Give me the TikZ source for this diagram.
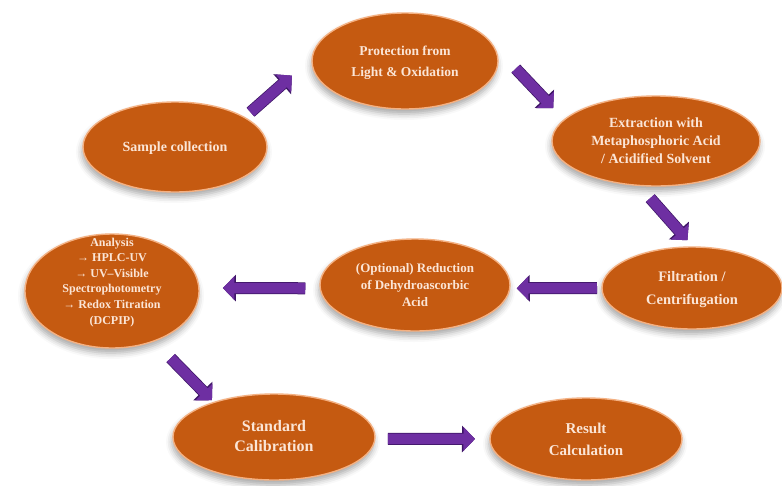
\documentclass[tikz,border=0pt]{standalone}
\usepackage{fontspec}
\setmainfont{Liberation Serif}
\usetikzlibrary{shapes.geometric,arrows.meta,shadows.blur}

\definecolor{stagefill}{HTML}{C55A11}
\definecolor{stageedge}{HTML}{F4B183}
\definecolor{stageink}{HTML}{FBE5D6}
\definecolor{flowpurple}{HTML}{6E2FA2}
\definecolor{flowdark}{HTML}{3E1666}

% centred block of lines that does not enlarge the ellipse around it
\newcommand\stagetext[2][-0.3em]{\makebox[0pt]{\raisebox{#1}[0pt][0pt]{\begin{tabular}{@{}c@{}}#2\end{tabular}}}}

\begin{document}
\begin{tikzpicture}[x=1pt,y=-1pt,
  stage/.style={ellipse, inner sep=0pt, outer sep=0pt, fill=stagefill,
    draw=stageedge, line width=1.4pt, text=stageink,
    blur shadow={shadow xshift=-1pt, shadow yshift=-5pt,
      shadow blur radius=6pt, shadow opacity=35}},
  flow/.style={draw=flowpurple, line width=10.5pt,
    -{Triangle[width=23pt,length=11.5pt]},
    preaction={draw=flowdark, line width=12pt,
      -{Triangle[width=26pt,length=13pt]}}}]

\useasboundingbox (0,0) rectangle (782,485);

% process stages
\node[stage, minimum width=184pt, minimum height=90pt,
  font=\fontsize{14}{18}\selectfont\bfseries] (collect) at (175,147)
  {\stagetext{Sample collection}};
\node[stage, minimum width=186pt, minimum height=96pt,
  font=\fontsize{13.5}{21}\selectfont\bfseries] (protect) at (405,61)
  {\stagetext{Protection from\\Light \& Oxidation}};
\node[stage, minimum width=208pt, minimum height=90pt,
  font=\fontsize{14}{18}\selectfont\bfseries] (extract) at (656,141)
  {\stagetext{Extraction with\\Metaphosphoric Acid\\/ Acidified Solvent}};
\node[stage, minimum width=180pt, minimum height=82pt,
  font=\fontsize{14.5}{23}\selectfont\bfseries] (filter) at (692,288)
  {\stagetext{Filtration /\\Centrifugation}};
\node[stage, minimum width=190pt, minimum height=92pt,
  font=\fontsize{13}{17}\selectfont\bfseries] (reduce) at (415,285)
  {\stagetext{(Optional) Reduction\\of Dehydroascorbic\\Acid}};
\node[stage, minimum width=174pt, minimum height=114pt,
  font=\fontsize{12}{15.6}\selectfont\bfseries] (analyse) at (112,291)
  {\stagetext[6pt]{Analysis\\→ HPLC-UV\\→ UV–Visible\\Spectrophotometry\\→ Redox Titration\\(DCPIP)}};
\node[stage, minimum width=202pt, minimum height=86pt,
  font=\fontsize{16}{20}\selectfont\bfseries] (calib) at (274,437)
  {\stagetext{Standard\\Calibration}};
\node[stage, minimum width=192pt, minimum height=82pt,
  font=\fontsize{15}{22}\selectfont\bfseries] (result) at (586,439)
  {\stagetext{Result\\Calculation}};

% flow between stages
\draw[flow, shorten <=8pt, shorten >=27pt] (collect.23) -- (protect.178);
\draw[flow, shorten <=41pt, shorten >=16pt] (protect.15) -- (extract.167);
\draw[flow, shorten <=17pt, shorten >=9pt] (extract.249) -- (filter.88.5);
\draw[flow, shorten <=5pt, shorten >=7pt] (filter.180) -- (reduce.-2.5);
\draw[flow, shorten <=15pt, shorten >=24pt] (reduce.182.5) -- (analyse.2);
\draw[flow, shorten <=24pt, shorten >=3pt] (analyse.310) -- (calib.150);
\draw[flow, shorten <=13pt, shorten >=15pt] (calib.-1) -- (result.180);
\end{tikzpicture}
\end{document}
